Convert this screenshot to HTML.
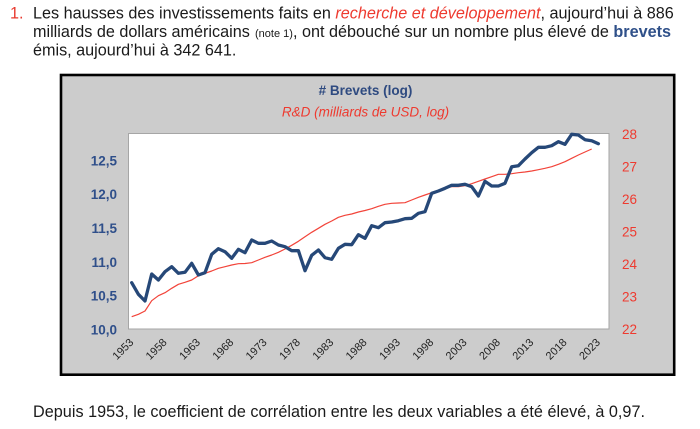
<!DOCTYPE html>
<html>
<head>
<meta charset="utf-8">
<style>
  html, body { margin:0; padding:0; background:#ffffff; }
  svg { display:block; }
  text { font-family: "Liberation Sans", Arial, sans-serif; }
</style>
</head>
<body>
<svg width="700" height="429" viewBox="0 0 700 429" xmlns="http://www.w3.org/2000/svg">
  <rect x="0" y="0" width="700" height="429" fill="#ffffff"/>

  <!-- Top paragraph -->
  <text x="10" y="18.3" font-size="16.2" fill="#e8392e">1.</text>
  <text x="33" y="18.3" font-size="16.2" fill="#1a1a1a">Les hausses des investissements faits en <tspan fill="#ee3a2f" font-style="italic">recherche et développement</tspan>, aujourd’hui à 886</text>
  <text x="33" y="36.8" font-size="16.2" fill="#1a1a1a">milliards de dollars américains</text>
  <text x="255" y="36.8" font-size="11" fill="#1a1a1a">(note 1)</text>
  <text x="293" y="36.8" font-size="16.2" fill="#1a1a1a">, ont débouché sur un nombre plus élevé de <tspan font-weight="bold" fill="#2f5089">brevets</tspan></text>
  <text x="33" y="55.3" font-size="16.2" fill="#1a1a1a">émis, aujourd’hui à 342 641.</text>

  <!-- Chart box -->
  <rect x="61" y="75" width="613.2" height="299.7" fill="#cccccc" stroke="#000000" stroke-width="2.6"/>

  <!-- Titles -->
  <text x="365.5" y="95" font-size="13.5" font-weight="bold" fill="#2e4a80" text-anchor="middle">#&#160;Brevets (log)</text>
  <text x="365.5" y="116.5" font-size="13.5" font-style="italic" fill="#ee3a2f" text-anchor="middle">R&amp;D (milliards de USD, log)</text>

  <!-- Plot area -->
  <rect x="128.5" y="133.5" width="480.5" height="195.5" fill="#ffffff" stroke="#a6a6a6" stroke-width="1"/>

  <!-- Left axis labels -->
  <g font-size="13.5" font-weight="bold" fill="#2f4f8a" text-anchor="end">
    <text x="117" y="165.3">12,5</text>
    <text x="117" y="199.1">12,0</text>
    <text x="117" y="233">11,5</text>
    <text x="117" y="266.8">11,0</text>
    <text x="117" y="300.7">10,5</text>
    <text x="117" y="334.5">10,0</text>
  </g>

  <!-- Right axis labels -->
  <g font-size="13.5" fill="#ee3a2f" text-anchor="start">
    <text x="622" y="138.8">28</text>
    <text x="622" y="171.3">27</text>
    <text x="622" y="203.8">26</text>
    <text x="622" y="236.3">25</text>
    <text x="622" y="268.8">24</text>
    <text x="622" y="301.3">23</text>
    <text x="622" y="333.8">22</text>
  </g>

  <!-- X labels -->
  <g font-size="11" fill="#222222" text-anchor="end">
    <text x="134.2" y="343" transform="rotate(-45 134.2 343)">1953</text>
    <text x="167.5" y="343" transform="rotate(-45 167.5 343)">1958</text>
    <text x="200.9" y="343" transform="rotate(-45 200.9 343)">1963</text>
    <text x="234.2" y="343" transform="rotate(-45 234.2 343)">1968</text>
    <text x="267.5" y="343" transform="rotate(-45 267.5 343)">1973</text>
    <text x="300.9" y="343" transform="rotate(-45 300.9 343)">1978</text>
    <text x="334.2" y="343" transform="rotate(-45 334.2 343)">1983</text>
    <text x="367.5" y="343" transform="rotate(-45 367.5 343)">1988</text>
    <text x="400.9" y="343" transform="rotate(-45 400.9 343)">1993</text>
    <text x="434.2" y="343" transform="rotate(-45 434.2 343)">1998</text>
    <text x="467.5" y="343" transform="rotate(-45 467.5 343)">2003</text>
    <text x="500.9" y="343" transform="rotate(-45 500.9 343)">2008</text>
    <text x="534.2" y="343" transform="rotate(-45 534.2 343)">2013</text>
    <text x="567.5" y="343" transform="rotate(-45 567.5 343)">2018</text>
    <text x="600.9" y="343" transform="rotate(-45 600.9 343)">2023</text>
  </g>

  <!-- R&D red line -->
  <polyline fill="none" stroke="#f2443a" stroke-width="1.2" stroke-linejoin="round"
    points="131.7,316.7 138.4,314.3 145.0,311 151.7,300.7 158.4,295.7 165.0,292.7 171.7,288.3 178.4,284.3 185.0,282.3 191.7,280 198.4,275.7 205.0,273.3 211.7,271 218.4,268.3 225.0,266.7 231.7,265 238.4,263.7 245.0,263.5 251.7,262.7 258.4,260 265.0,257.3 271.7,255 278.4,252.3 285.0,249 291.7,245.3 298.4,241.3 305.0,236.7 311.7,232.3 318.4,228.3 325.0,224.3 331.7,221 338.4,217.3 345.0,215.3 351.7,214 358.4,212 365.0,210.5 371.7,208.7 378.4,206.3 385.0,204.3 391.7,203.3 398.4,203 405.0,202.7 411.7,200 418.4,197.3 425.0,195 431.7,192.7 438.4,190.3 445.0,188.3 451.7,186.7 458.4,186.7 465.0,185.7 471.7,183.7 478.4,181.3 485.0,179 491.7,176.7 498.4,174.3 505.0,174.3 511.7,173.7 518.4,172.7 525.0,172 531.7,171 538.4,169.7 545.0,168.3 551.7,166.7 558.4,164.3 565.0,161.7 571.7,158.3 578.4,155 585.0,152 591.7,149"/>

  <!-- Brevets blue line -->
  <polyline fill="none" stroke="#264878" stroke-width="3.3" stroke-linejoin="round" stroke-linecap="round"
    points="131.7,282.7 138.4,294.3 145.0,301 151.7,274 158.4,280 165.0,271.7 171.7,266.7 178.4,273.3 185.0,272.3 191.7,263.3 198.4,275 205.0,272.7 211.7,254.3 218.4,248.7 225.0,251.7 231.7,258.3 238.4,249.3 245.0,252.7 251.7,240 258.4,243.3 265.0,243.3 271.7,241 278.4,245 285.0,246.7 291.7,250.7 298.4,250.7 305.0,270.7 311.7,255.3 318.4,250 325.0,257.7 331.7,259.3 338.4,248.3 345.0,244.3 351.7,244.7 358.4,234.7 365.0,238.3 371.7,225.7 378.4,227.7 385.0,222.7 391.7,222 398.4,220.7 405.0,218.7 411.7,218.3 418.4,213.3 425.0,211.7 431.7,193.3 438.4,191 445.0,188.3 451.7,185.3 458.4,185.3 465.0,184.3 471.7,186.7 478.4,196 485.0,181.3 491.7,186 498.4,186 505.0,183.3 511.7,166.7 518.4,165.7 525.0,159 531.7,152.7 538.4,147.3 545.0,147.3 551.7,145.7 558.4,141.7 565.0,144.3 571.7,134.3 578.4,135 585.0,139.7 591.7,140.7 598.4,143.7"/>

  <!-- Bottom sentence -->
  <text x="33" y="417" font-size="16.2" fill="#1a1a1a" textLength="612" lengthAdjust="spacing">Depuis 1953, le coefficient de corrélation entre les deux variables a été élevé, à 0,97.</text>
</svg>
</body>
</html>
